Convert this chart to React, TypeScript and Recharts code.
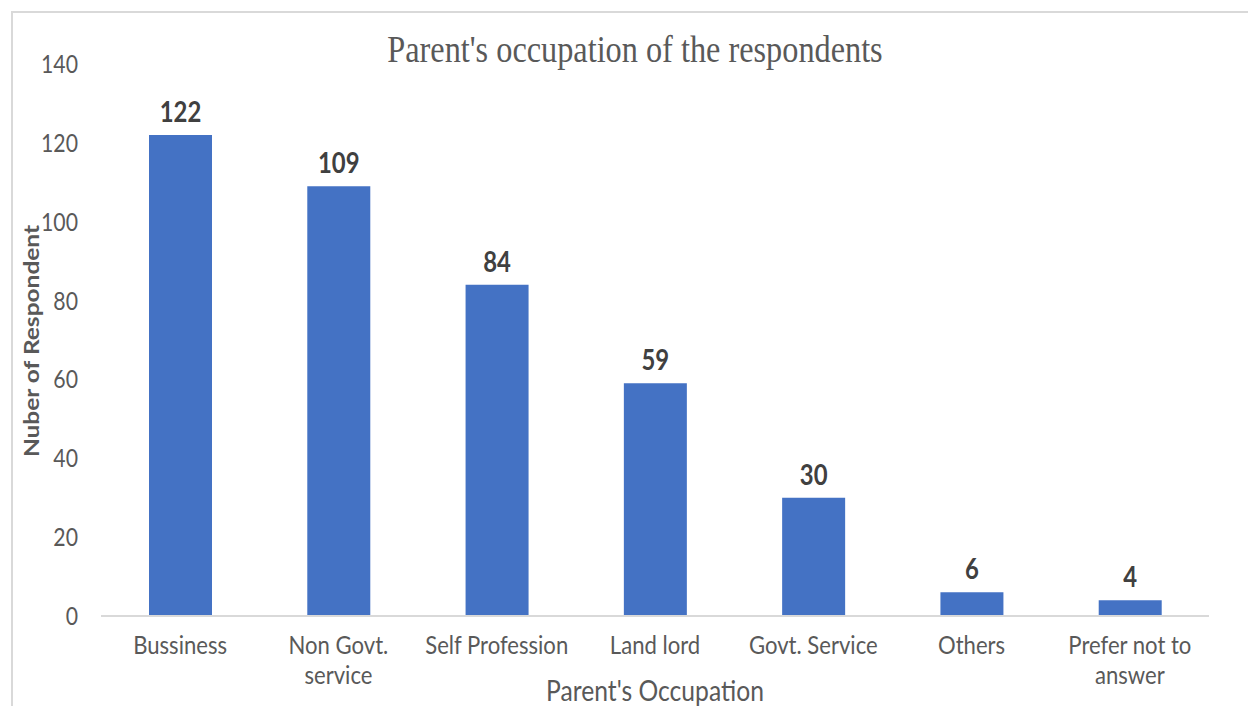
import React from 'react';
import { BarChart, Bar, XAxis, YAxis, LabelList } from 'recharts';

const categories = ['Bussiness', 'Non Govt.\nservice', 'Self Profession', 'Land lord', 'Govt. Service', 'Others', 'Prefer not to\nanswer'];
const respondents = [122, 109, 84, 59, 30, 6, 4];
const yTicks = [0, 20, 40, 60, 80, 100, 120, 140];

const chartTitle = "Parent's occupation of the respondents";
const xTitle = "Parent's Occupation";
const yTitle = 'Nuber of Respondent';

const data = categories.map((c, i) => ({ category: c, value: respondents[i] }));

const SX = 0.85;
const SANS = 'Lato, "Open Sans", sans-serif';
const GRAY = '#595959';

const XTick = (props: any) => {
  const { x, y, payload } = props;
  const lines = String(payload.value).split('\n');
  return (
    <text transform={`translate(${x},${y}) scale(${SX},1)`} textAnchor="middle" fill={GRAY} fontSize={26} fontFamily={SANS}>
      {lines.map((l, i) => (
        <tspan key={i} x={0} y={38 + i * 30}>{l}</tspan>
      ))}
    </text>
  );
};

const YTick = (props: any) => {
  const { x, y, payload } = props;
  return (
    <text transform={`translate(${x},${y}) scale(${SX},1)`} textAnchor="end" fill={GRAY} fontSize={25} fontFamily={SANS} y={9}>
      {payload.value}
    </text>
  );
};

const ValueLabel = (props: any) => {
  const { x, y, width, value } = props;
  const cx = Number(x) + Number(width) / 2;
  return (
    <text transform={`translate(${cx},${Number(y) - 13}) scale(${SX * 0.97},1)`} textAnchor="middle" fill="#404040" fontSize={29} fontWeight="bold" fontFamily={SANS}>
      {value}
    </text>
  );
};

const XLabel = (props: any) => {
  const vb = props.viewBox || {};
  const cx = vb.x + vb.width / 2;
  return (
    <text transform={`translate(${cx},701) scale(${SX},1)`} textAnchor="middle" fill={GRAY} fontSize={29} fontFamily={SANS}>
      {xTitle}
    </text>
  );
};

const YLabel = (props: any) => {
  const vb = props.viewBox || {};
  const cy = vb.y + vb.height / 2;
  return (
    <text transform={`translate(39,${cy + 1}) scale(${SX},1) rotate(-90)`} textAnchor="middle" fill={GRAY} fontSize={24.5} fontWeight="bold" fontFamily={SANS}>
      {yTitle}
    </text>
  );
};

export default function App() {
  return (
    <div style={{ position: 'absolute', left: 0, top: 0, width: 1248, height: 706, overflow: 'hidden', background: '#fff' }}>
      <div style={{ position: 'absolute', left: 11, top: 11, width: 1300, height: 800, border: '2px solid #d9d9d9', boxSizing: 'border-box' }} />
      <svg style={{ position: 'absolute', left: 0, top: 0 }} width={1248} height={80}>
        <text transform={`translate(635,62) scale(${SX},1)`} textAnchor="middle" fill={GRAY} fontSize={38} fontFamily='"Liberation Serif", "Times New Roman", serif'>
          {chartTitle}
        </text>
      </svg>
      <div style={{ position: 'absolute', left: 0, top: 0 }}>
        <BarChart width={1248} height={706} data={data} margin={{ top: 64, right: 39, bottom: 30, left: 0 }}>
          <XAxis
            dataKey="category"
            interval={0}
            height={60}
            tickLine={false}
            tickSize={0}
            tickMargin={0}
            axisLine={{ stroke: '#d9d9d9', strokeWidth: 2 }}
            tick={<XTick />}
            label={<XLabel />}
          />
          <YAxis
            width={101}
            domain={[0, 140]}
            ticks={yTicks}
            interval={0}
            axisLine={false}
            tickLine={false}
            tickSize={0}
            tickMargin={23}
            tick={<YTick />}
            label={<YLabel />}
          />
          <Bar dataKey="value" fill="#4472C4" barSize={63} isAnimationActive={false}>
            <LabelList dataKey="value" content={<ValueLabel />} />
          </Bar>
        </BarChart>
      </div>
    </div>
  );
}
